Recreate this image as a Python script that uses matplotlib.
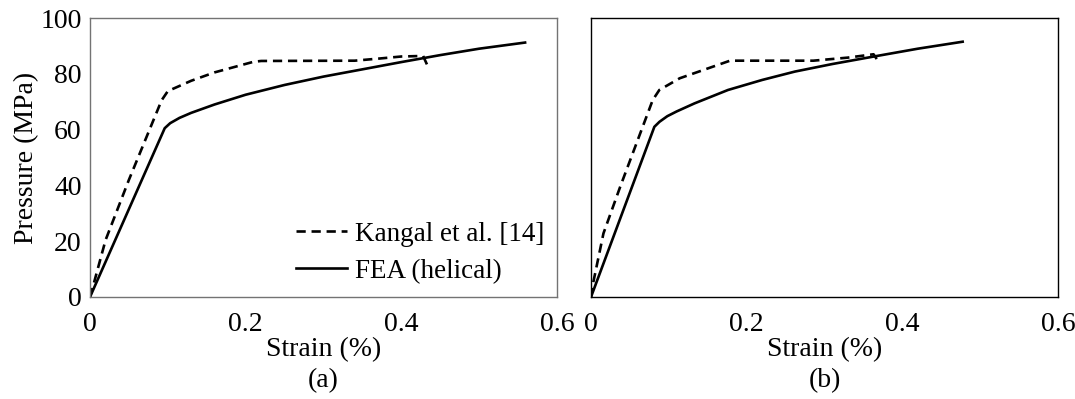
import matplotlib.pyplot as plt

plt.rcParams['font.family'] = ['Liberation Serif', 'DejaVu Serif']
plt.rcParams['font.size'] = 20

# (a) strain (%) vs pressure (MPa)
exp_a_strain = [0, 0.006, 0.02, 0.05, 0.092, 0.100, 0.13, 0.16, 0.21, 0.22, 0.34, 0.373, 0.40, 0.428, 0.433]
exp_a_press = [0, 6, 20.4, 42, 70.5, 73.8, 77.5, 80.5, 84.3, 84.6, 84.7, 85.5, 86.2, 86.4, 83.3]
fea_a_strain = [0, 0.096, 0.103, 0.115, 0.13, 0.16, 0.20, 0.25, 0.30, 0.35, 0.40, 0.45, 0.50, 0.559]
fea_a_press = [0, 60.5, 62.3, 64.2, 66.0, 69.0, 72.5, 76.0, 79.0, 81.6, 84.2, 86.7, 89.0, 91.2]

# (b)
exp_b_strain = [0, 0.002, 0.016, 0.0375, 0.0793, 0.0878, 0.114, 0.1786, 0.2856, 0.33, 0.363, 0.3695]
exp_b_press = [0, 4, 22.8, 39.5, 70.6, 74.2, 78.4, 84.7, 84.7, 85.8, 87.0, 84.3]
fea_b_strain = [0, 0.0814, 0.088, 0.098, 0.11, 0.133, 0.176, 0.22, 0.262, 0.31, 0.3675, 0.42, 0.4775]
fea_b_press = [0, 61, 62.8, 64.8, 66.5, 69.4, 74.2, 77.8, 80.8, 83.5, 86.4, 89.0, 91.5]

fig = plt.figure(figsize=(10.75, 3.99), dpi=100)
ax1 = fig.add_axes([90 / 1075, 1 - 297 / 399, 467 / 1075, 279 / 399])
ax2 = fig.add_axes([591 / 1075, 1 - 297 / 399, 467 / 1075, 279 / 399])

panels = [
    (ax1, exp_a_strain, exp_a_press, fea_a_strain, fea_a_press, '(a)', '0.45'),
    (ax2, exp_b_strain, exp_b_press, fea_b_strain, fea_b_press, '(b)', 'black'),
]

for ax, xs_e, ys_e, xs_f, ys_f, tag, edge in panels:
    ax.plot(xs_e, ys_e, color='black', lw=1.9, ls=(0, (3.5, 2.2)), label='Kangal et al. [14]')
    ax.plot(xs_f, ys_f, color='black', lw=1.9, label='FEA (helical)')
    ax.set_xlim(0, 0.6)
    ax.set_ylim(0, 100)
    ax.set_xticks([0, 0.2, 0.4, 0.6])
    ax.set_xticklabels(['0', '0.2', '0.4', '0.6'])
    ax.tick_params(length=0, pad=11, labelsize=20)
    for s in ax.spines.values():
        s.set_color(edge)
        s.set_linewidth(1.0)
    ax.set_xlabel('Strain (%)\n' + tag, fontsize=20, labelpad=0, linespacing=1.3)

ax1.set_yticks([0, 20, 40, 60, 80, 100])
ax1.tick_params(axis='y', pad=6)
ax1.set_ylabel('Pressure (MPa)', fontsize=20, labelpad=1)
ax2.set_yticks([])

ax1.legend(loc='lower right', bbox_to_anchor=(1.02, -0.03), frameon=False,
           fontsize=19.5, handlelength=1.9, handletextpad=0.3, labelspacing=0.45,
           borderaxespad=0.4)

fig.savefig('out.png', dpi=100)
